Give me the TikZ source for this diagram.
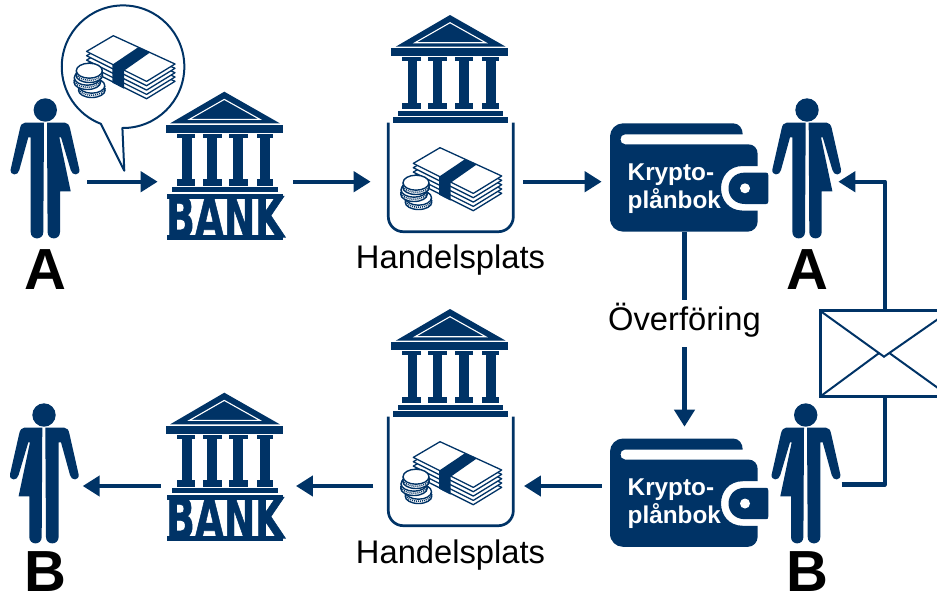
\documentclass[tikz,border=0pt]{standalone}
\usepackage{fontspec}
\setmainfont{Liberation Sans}
\newfontfamily\bankfont[FakeBold=1.2]{DejaVu Sans Bold}
\usetikzlibrary{arrows.meta}
\definecolor{navy}{HTML}{003366}
\tikzset{
	slot/.style={inner sep=0pt, outer sep=0pt},
	flow/.style={draw=navy, line width=4.4pt, line join=round, -{Triangle[length=17pt,width=20pt]}},
	plain/.style={draw=navy, line width=4.4pt, line join=round},
	tag/.style={font=\fontsize{32.7}{36}\selectfont, anchor=base, inner sep=0pt, outer sep=0pt},
	who/.style={font=\bfseries\fontsize{58}{60}\selectfont, anchor=base, inner sep=0pt},
}
\newcommand{\person}[3] % x of head, y of head, 1 or -1 for side of skirt
{
	\begin{scope}[shift={(#1,#2)}, xscale=#3]
		% head
		\fill[navy] (0,0) circle (11.7);
		% plain half
		\fill[navy] (-1.3,12.7) -- (-20.3,12.7) .. controls (-23,12.7) and (-24.7,15) .. (-25.3,18.3)
			-- (-34.6,59.3) .. controls (-35.5,66) and (-27,66) .. (-26,60) -- (-17,27.3) -- (-14.6,27.3)
			-- (-14.6,122) .. controls (-14.6,130.5) and (-2,130.5) .. (-2,122) -- cycle;
		% skirt half
		\fill[navy] (1.7,12.7) -- (19.7,12.7) .. controls (22,12.7) and (24,15) .. (24.7,18.3)
			-- (34,59.3) .. controls (35,66) and (26.5,66) .. (25.4,60) -- (15.7,27.3) -- (14,27.3)
			-- (25.4,81.3) -- (14.7,81.3) -- (14.7,122) .. controls (14.7,130.5) and (2.3,130.5) .. (2.3,122) -- cycle;
	\end{scope}
}
\newcommand{\temple}[2] % x of apex, y of apex
{
	\begin{scope}[shift={(#1,#2)}]
		% roof
		\fill[navy] (0,0) -- (55.7,31.7) -- (-54.3,31.7) -- cycle;
		\draw[white, line width=1.1pt] (0,7.7) -- (35.7,27.7) -- (-35,27.7) -- cycle;
		\fill[navy] (-58.7,33) rectangle (58.3,41);
		% columns
		\foreach \capl/\capr/\shl/\shr in {-47.7/-29.3/-42/-32.7, -21.7/-2.7/-17/-7.7, 5/23.3/9/19, 32.3/49/36/45.7}
		{
			\fill[navy] (\capl,41.8) rectangle (\capr,45.9);
			\fill[navy] (\shl,45.9) rectangle (\shr,87.7);
			\fill[navy] (\capl,87.7) rectangle (\capr,94);
		}
		% plinth
		\fill[navy] (-52.3,95.6) rectangle (53.4,100.6);
	\end{scope}
}
\newcommand{\bankplate}[3] % x of apex, y of apex, name
{
	\begin{scope}[shift={(#1,#2)}]
		\fill[navy] (-57,102.3) rectangle (59,148.3);
		\fill[white] (-57,107) rectangle (59,143);
		\node[slot, text=navy, font=\bankfont\fontsize{37.5}{40}\selectfont, yscale=1.5, transform shape] (#3) at (1,125) {BANK};
	\end{scope}
}
\newcommand{\cash}[2] % x and y of far corner of the notes
{
	\begin{scope}[shift={(#1,#2)}, line join=round]
		% stack of notes
		\foreach \lay in {17.3,13,8.7,4.3,0}
			\filldraw[navy, fill=white, line width=1.3pt] (0,\lay) -- (61.7,28.3+\lay) -- (33.3,45.7+\lay) -- (-26.7,15.7+\lay) -- cycle;
		% band
		\fill[navy] (25,11.5) -- (36.7,16.8) -- (10.7,35) -- (10.7,53) -- (-1,47) -- (-1,29) -- cycle;
		% coins
		\foreach \cx/\cy in {-21.5/50,-26/42,-24/35}
		{
			\filldraw[navy, fill=white, line width=1.4pt] (\cx,\cy+4.5) ellipse (13.3 and 7.3);
			\draw[navy, line width=1.5pt, dash pattern=on 1pt off 1pt] (\cx,\cy+2.2) ellipse (13.3 and 7.3);
			\filldraw[navy, fill=white, line width=1.4pt] (\cx,\cy) ellipse (13 and 7.5);
		}
	\end{scope}
}
\newcommand{\market}[2] % x of apex, y of apex
{
	\temple{#1}{#2};
	\begin{scope}[shift={(#1,#2)}]
		\fill[navy] (-57.3,102.3) rectangle (57.7,108.3);
		\draw[navy, line width=2.7pt, rounded corners=15pt] (-61.7,107.7) -- (-61.7,216.7) -- (63.3,216.7) -- (63.3,107.7);
	\end{scope}
	\cash{#1-10}{#2+132.7};
}
\newcommand{\wallet}[3] % x and y of top left corner, name of text
{
	\begin{scope}[shift={(#1,#2)}]
		% pouch
		\fill[navy] (0,13) .. controls (0,6) and (6,0) .. (13,0) -- (123,0) .. controls (129,0) and (132.7,5) .. (132.7,11)
			-- (15,11) .. controls (9,11) and (9,21) .. (15,21) -- (138,21) .. controls (144,21) and (147.7,25) .. (147.7,31)
			-- (147.7,42.7) -- (133,42.7) .. controls (103.7,42.7) and (103.7,87.3) .. (133,87.3) -- (147.7,87.3)
			-- (147.7,98) .. controls (147.7,104) and (143,108.3) .. (138,108.3) -- (13,108.3) .. controls (6,108.3) and (0,103) .. (0,95) -- cycle;
		% clasp
		\fill[navy] (135,49.3) -- (156,49.3) .. controls (157.5,49.3) and (158.3,50) .. (158.3,52)
			-- (158.3,78) .. controls (158.3,80) and (157.5,80.7) .. (156,80.7) -- (135,80.7)
			.. controls (113,80.7) and (113,49.3) .. (135,49.3) -- cycle;
		\fill[white] (135,65) circle (5);
		\node[slot, text=white, anchor=west, align=left, font=\bfseries\fontsize{24.3}{28}\selectfont] (#3) at (17.7,65.5) {Krypto-\\plånbok};
	\end{scope}
}

\begin{document}
\begin{tikzpicture}[x=1pt, y=-1pt]
	\useasboundingbox (0,0) rectangle (937,595);
	% upper row
	\draw[navy, fill=white, line width=2pt, line join=round] (122.4,128) arc[start angle=90.6, end angle=-248.8, radius=61.3] -- (124.3,170.7) -- cycle;
	\cash{113.3}{35.7};
	\person{45.3}{110}{1};
	\temple{224.3}{91.7};
	\bankplate{224.3}{91.7}{bankAtext};
	\market{450}{15};
	\wallet{610}{123.3}{walletAtext};
	\person{807}{110}{1};
	% lower row
	\person{44}{415}{-1};
	\temple{224.3}{392.7};
	\bankplate{224.3}{392.7}{bankBtext};
	\market{450}{309};
	\wallet{610}{438.5}{walletBtext};
	\person{805.7}{415}{-1};
	% labels
	\node[who] (nameAl) at (45,289.3) {A};
	\node[who] (nameAr) at (807.3,289.3) {A};
	\node[who] (nameBl) at (45,591.5) {B};
	\node[who] (nameBr) at (807.5,591.5) {B};
	\node[tag] (placeA) at (450.5,268.3) {Handelsplats};
	\node[tag] (placeB) at (450.5,563.3) {Handelsplats};
	\node[tag, text height=30.7pt, text depth=16.6pt] (transfer) at (684.5,330.7) {Överföring};
	% boxes that the arrows start and stop at
	\node[slot, minimum width=83.4pt] (personAl) at (45.3,181.7) {};
	\node[slot, minimum width=135.6pt] (bankA) at (225.5,181.7) {};
	\node[slot, minimum width=152.6pt] (tradeA) at (447,181.7) {};
	\node[slot, minimum width=165.6pt, minimum height=100.6pt] (walletA) at (684.5,181.7) {};
	\node[slot, minimum width=62.6pt] (personAr) at (807,181.7) {};
	\node[slot, minimum width=77.4pt] (personBl) at (44,486) {};
	\node[slot, minimum width=135.3pt] (bankB) at (228.3,486) {};
	\node[slot, minimum width=150.7pt] (tradeB) at (448.6,486) {};
	\node[slot, minimum width=165.6pt, minimum height=118.6pt] (walletB) at (684.5,486) {};
	\node[slot, minimum width=72pt] (personBr) at (805.7,484.3) {};
	% envelope
	\node[slot, draw=navy, line width=3pt, minimum width=130pt, minimum height=86pt] (letter) at (885,353.7) {};
	\coordinate (flap) at (884,356.7);
	\coordinate (foldl) at (878.5,353.5);
	\coordinate (foldr) at (890,353.5);
	\draw[navy, line width=2pt] (letter.north west) -- (flap) -- (letter.north east);
	\draw[navy, line width=2pt] (letter.south west) -- (foldl);
	\draw[navy, line width=2pt] (letter.south east) -- (foldr);
	% arrows
	\draw[flow] (personAl.east) -- (bankA.west);
	\draw[flow] (bankA.east) -- (tradeA.west);
	\draw[flow] (tradeA.east) -- (walletA.west);
	\draw[plain] (walletA.south) -- (transfer.north);
	\draw[flow] (transfer.south) -- (walletB.north);
	\draw[plain] (personBr.east) -| (letter.south);
	\draw[flow] (letter.north) |- (personAr.east);
	\draw[flow] (walletB.west) -- (tradeB.east);
	\draw[flow] (tradeB.west) -- (bankB.east);
	\draw[flow] (bankB.west) -- (personBl.east);
\end{tikzpicture}
\end{document}
